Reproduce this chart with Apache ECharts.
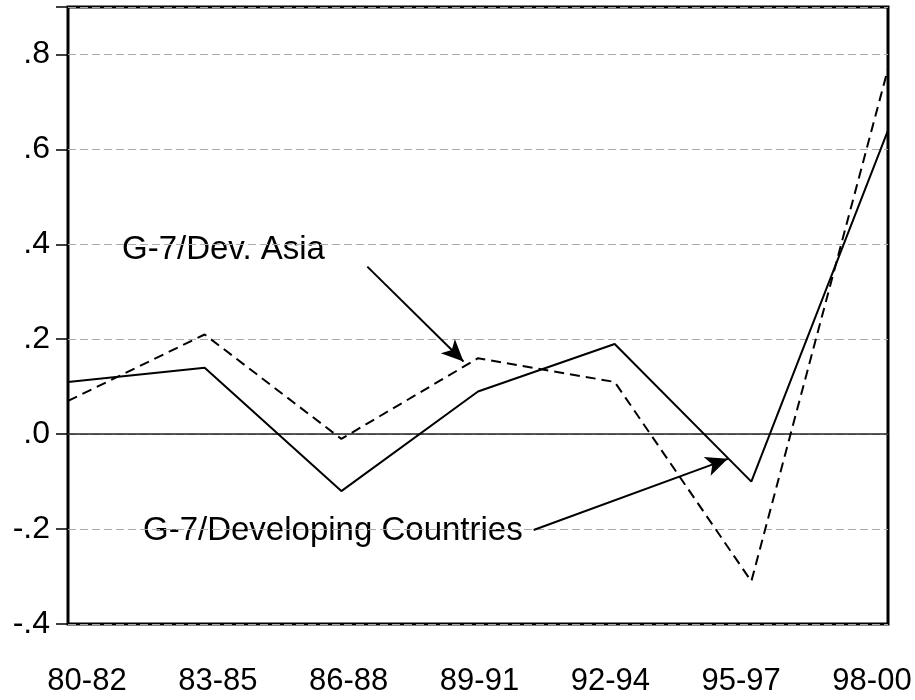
<!DOCTYPE html>
<html>
<head>
<meta charset="utf-8">
<script src="https://cdn.jsdelivr.net/npm/echarts@6/dist/echarts.min.js"></script>
<style>
  html, body { margin: 0; padding: 0; background: #fff; }
  #chart { width: 915px; height: 700px; }
</style>
</head>
<body>
<div id="chart"></div>
<script>
// periods on the x axis
const periods = ['80-82', '83-85', '86-88', '89-91', '92-94', '95-97', '98-00'];

// G-7 / Developing Countries (solid)
const devCountries = [0.11, 0.14, -0.12, 0.09, 0.19, -0.10, 0.64];
// G-7 / Dev. Asia (dashed)
const devAsia = [0.07, 0.21, -0.01, 0.16, 0.11, -0.31, 0.77];

// y ticks
const yMin = -0.4, yMax = 0.9, yStep = 0.2;

// annotation arrows, in data coords [periodIndex, value]
const asiaArrow = [[2.19, 0.353], [2.894, 0.153]];
const devArrow = [[3.407, -0.202], [4.828, -0.052]];

const FONT = '"Liberation Sans", Arial, Helvetica, sans-serif';

const toPairs = arr => arr.map((v, i) => [i, v]);

const fmtY = v => {
    if (Math.abs(v / yStep - Math.round(v / yStep)) > 1e-6) return '';
    return v.toFixed(1).replace('0.', '.');
};

const chart = echarts.init(document.getElementById('chart'), null, { renderer: 'canvas' });

chart.setOption({
    animation: false,
    backgroundColor: '#fff',
    grid: [
        { left: 68, right: 27, top: 7, bottom: 76, show: true, borderColor: '#000', borderWidth: 3, backgroundColor: 'transparent' },
        // label strip for the period names
        { left: 87, right: 43, top: 7, bottom: 76 }
    ],
    xAxis: [
        {
            type: 'value', gridIndex: 0, min: 0, max: periods.length - 1, interval: 1,
            axisLabel: { show: false },
            axisTick: { show: false },
            splitLine: { show: false },
            axisLine: { show: true, onZero: true, lineStyle: { color: '#222', width: 1.5 } }
        },
        {
            type: 'category', gridIndex: 1, data: periods, boundaryGap: false,
            axisLine: { show: false },
            axisTick: { show: false },
            axisLabel: { fontFamily: FONT, fontSize: 31, color: '#000', margin: 42 }
        }
    ],
    yAxis: [
        {
            type: 'value', gridIndex: 0, min: yMin, max: yMax, interval: yStep,
            axisLine: { show: false },
            axisTick: { show: true, length: 12, lineStyle: { color: '#000', width: 1.5 } },
            axisLabel: { fontFamily: FONT, fontSize: 32, color: '#000', margin: 18, formatter: fmtY },
            splitLine: { show: true, lineStyle: { color: '#aaa', width: 1, type: [8, 4] } }
        },
        { type: 'value', gridIndex: 1, show: false }
    ],
    series: [
        {
            name: 'G-7/Developing Countries',
            type: 'line', xAxisIndex: 0, yAxisIndex: 0,
            data: toPairs(devCountries),
            showSymbol: false,
            lineStyle: { color: '#000', width: 2 },
            markLine: {
                silent: true,
                symbol: ['none', 'arrow'],
                symbolSize: [15, 22],
                label: { show: false },
                lineStyle: { color: '#000', width: 2, type: 'solid' },
                data: [
                    [{ coord: asiaArrow[0] }, { coord: asiaArrow[1] }],
                    [{ coord: devArrow[0] }, { coord: devArrow[1] }]
                ]
            }
        },
        {
            name: 'G-7/Dev. Asia',
            type: 'line', xAxisIndex: 0, yAxisIndex: 0,
            data: toPairs(devAsia),
            showSymbol: false,
            lineStyle: { color: '#000', width: 2, type: [10, 6] }
        }
    ],
    graphic: [
        {
            type: 'text', left: 122, top: 233,
            style: { text: 'G-7/Dev. Asia', font: '33px ' + FONT, fill: '#000' }
        },
        {
            type: 'text', left: 143, top: 514,
            style: { text: 'G-7/Developing Countries', font: '33px ' + FONT, fill: '#000' }
        }
    ]
});
</script>
</body>
</html>
